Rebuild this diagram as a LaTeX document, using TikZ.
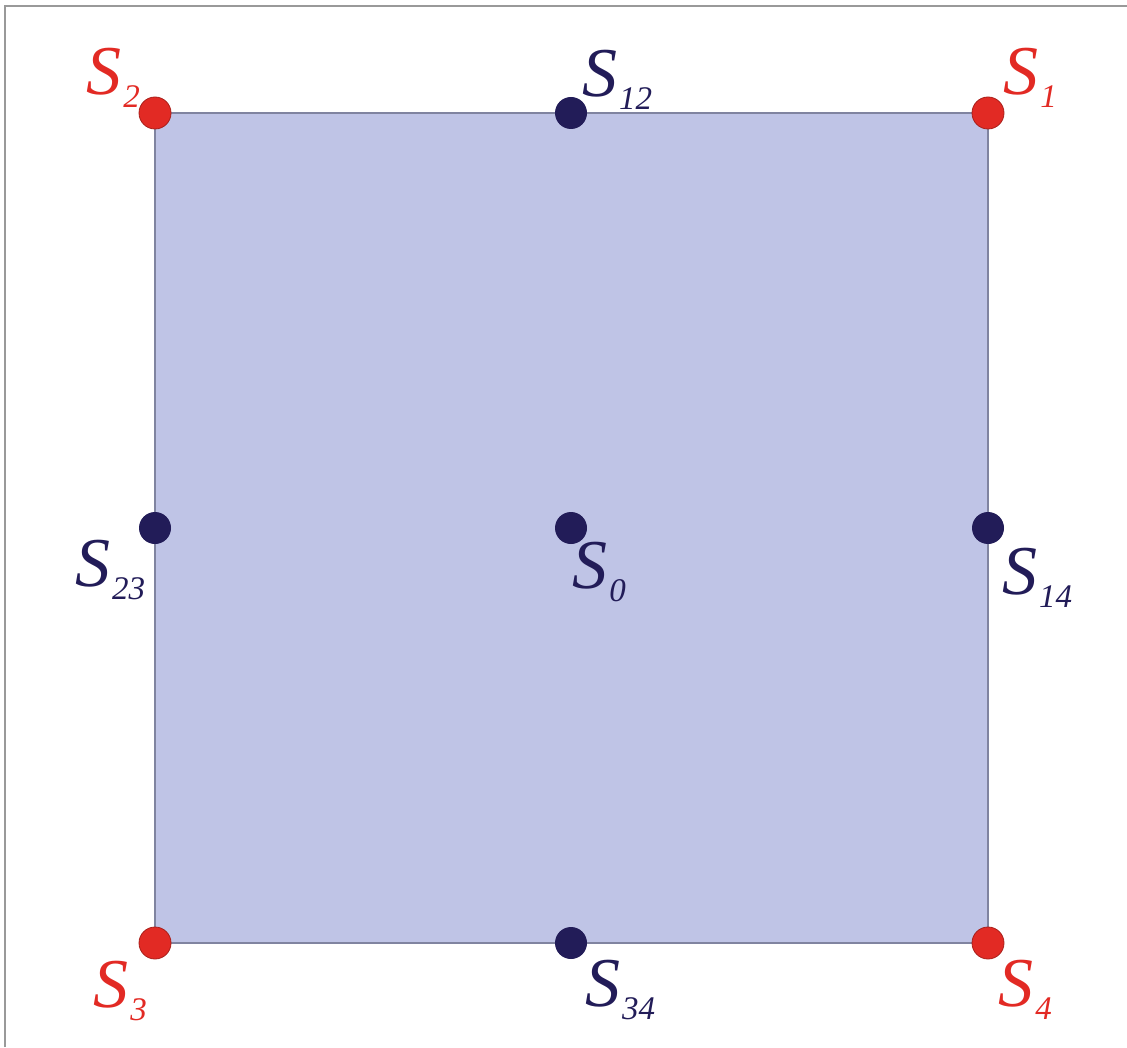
\documentclass[tikz,border=0pt]{standalone}
\usepackage{fontspec}
\setmainfont{Liberation Serif}
\usepackage{tikz}
\usetikzlibrary{positioning}
\usepackage{xcolor}
\definecolor{ptred}{RGB}{226,42,36}
\definecolor{ptnavy}{RGB}{34,28,88}
\definecolor{sqfill}{RGB}{191,196,230}
\definecolor{sqedge}{RGB}{128,132,160}
\newcommand{\sname}[1]{\textit{S}\kern1pt\raisebox{-6.5pt}{\fontsize{16.5}{18}\selectfont\textit{#1}}}
\tikzset{
  corner/.style={circle, draw=ptred!75!black, line width=0.4pt, fill=ptred, minimum size=16pt, inner sep=0pt},
  midpt/.style={circle, fill=ptnavy, minimum size=16pt, inner sep=0pt},
  redlbl/.style={text=ptred, inner sep=0pt, font=\fontsize{35}{40}\selectfont},
  navylbl/.style={text=ptnavy, inner sep=0pt, font=\fontsize{35}{40}\selectfont},
  square/.style={fill=sqfill, draw=sqedge, line width=0.8pt},
  frameline/.style={draw=black!40, line width=1pt}
}

\begin{document}
\begin{tikzpicture}[x=0.5pt, y=-0.5pt]
  \useasboundingbox (0,0) rectangle (1127,1047);
  \draw[frameline] (5,1047) -- (5,6) -- (1127,6);
  \draw[square] (155,113) rectangle (988,943);
  % corner points
  \node[corner] (s1) at (988,113) {};
  \node[corner] (s2) at (155,113) {};
  \node[corner] (s3) at (155,943) {};
  \node[corner] (s4) at (988,943) {};
  % midpoints
  \node[midpt] (s12) at (571,113) {};
  \node[midpt] (s23) at (155,528) {};
  \node[midpt] (s14) at (988,528) {};
  \node[midpt] (s34) at (571,943) {};
  \node[midpt] (s0) at (571,528) {};
  % labels
  \node[redlbl] (l1) at (1030,78) {\sname{1}};
  \node[redlbl] (l2) at (113,78) {\sname{2}};
  \node[redlbl] (l3) at (120,991) {\sname{3}};
  \node[redlbl] (l4) at (1025,990) {\sname{4}};
  \node[navylbl] (l12) at (617,80) {\sname{12}};
  \node[navylbl] (l23) at (110,570) {\sname{23}};
  \node[navylbl] (l14) at (1037,578) {\sname{14}};
  \node[navylbl] (l34) at (620,990) {\sname{34}};
  \node[navylbl] (l0) at (599,572) {\sname{0}};
\end{tikzpicture}
\end{document}
